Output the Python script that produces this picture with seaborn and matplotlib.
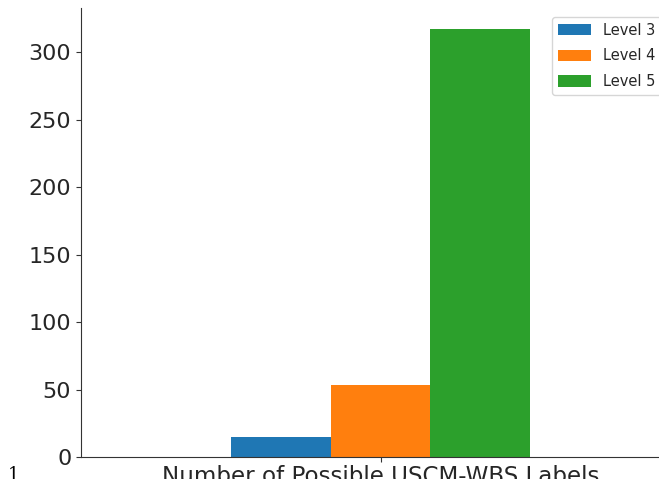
import matplotlib
matplotlib.use("Agg")
import matplotlib.pyplot as plt
import seaborn as sns
import pandas as pd

# Number of possible labels at each depth of the USCM-WBS hierarchy
levels = ["Level 3", "Level 4", "Level 5"]
label_counts = [15, 53, 317]
group = [""] * len(levels)
colors = ["#1f77b4", "#ff7f0e", "#2ca02c"]

df = pd.DataFrame({"group": group, "level": levels, "count": label_counts})

sns.set_style("ticks")
plt.rcParams["font.family"] = ["DejaVu Sans"]

W, H, DPI = 659, 479, 100
fig = plt.figure(figsize=(W / DPI, H / DPI), dpi=DPI)

# Axes extends slightly past the right edge of the canvas
left_px, right_px, top_px, bottom_px = 81, 680, 8, 457
ax = fig.add_axes([left_px / W, (H - bottom_px) / H,
                   (right_px - left_px) / W, (bottom_px - top_px) / H])

sns.barplot(data=df, x="group", y="count", hue="level", palette=colors,
            saturation=1, width=0.8, ax=ax, errorbar=None, linewidth=0)

ax.set_xlim(-0.8, 0.8)
ax.set_ylim(0, 332.6)
ax.set_yticks([0, 50, 100, 150, 200, 250, 300])
ax.tick_params(axis="both", labelsize=16, colors="#333333", labelcolor="#262626")
ax.set_xlabel("Number of Possible USCM-WBS Labels", fontsize=16.6,
              color="#262626", labelpad=-1)
ax.set_ylabel("")
sns.despine(ax=ax)
for s in ("left", "bottom"):
    ax.spines[s].set_color("#333333")

leg = ax.legend(loc="upper left", bbox_to_anchor=(552 / W, (H - 17) / H),
                bbox_transform=fig.transFigure, borderaxespad=0,
                fontsize=10.5, handlelength=2.3, handleheight=0.8,
                labelspacing=0.73, frameon=True)
leg.get_frame().set_edgecolor("#cccccc")

# Surrounding page text
fig.text(8 / W, (H - 484) / H, "1", family="DejaVu Serif", fontsize=13,
         color="black", va="bottom")

fig.savefig("out.png", dpi=DPI)
